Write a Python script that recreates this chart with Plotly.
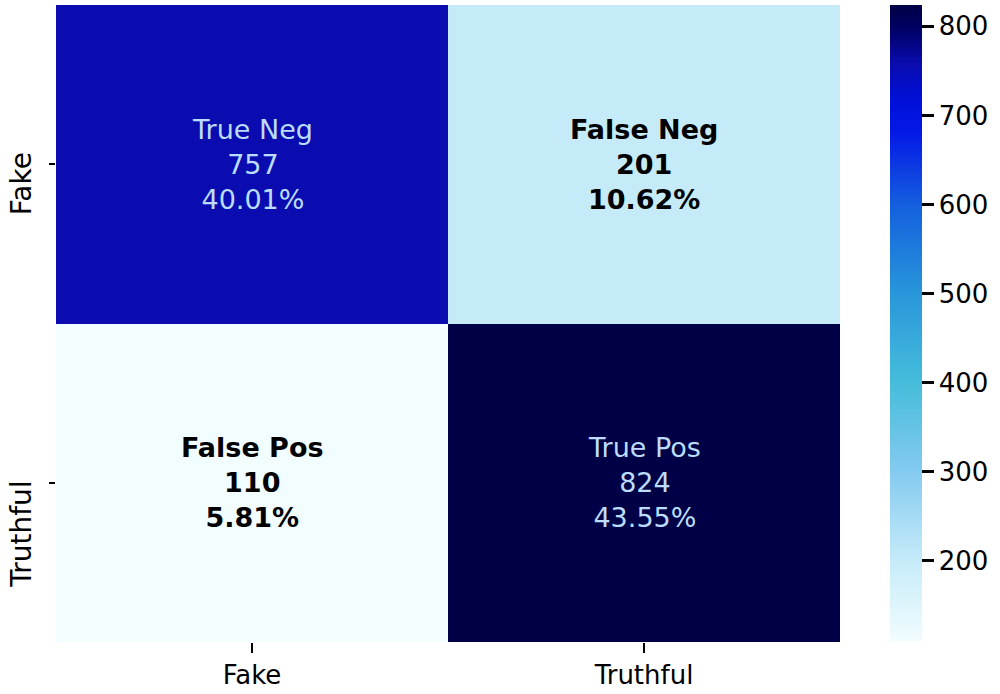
import plotly.graph_objects as go

# ---- data ----
x_labels = ["Fake", "Truthful"]
y_labels = ["Fake", "Truthful"]
counts = [[757, 201],
          [110, 824]]
group_names = [["True Neg", "False Neg"],
               ["False Pos", "True Pos"]]
percents = [["40.01%", "10.62%"],
            ["5.81%", "43.55%"]]
cbar_ticks = [200, 300, 400, 500, 600, 700, 800]

zmin, zmax = 110, 824

colorscale = [
    [0.000, "#f2fdff"],
    [0.126, "#c6ebf9"],
    [0.266, "#84caf0"],
    [0.406, "#46bddb"],
    [0.546, "#2897da"],
    [0.686, "#145fde"],
    [0.800, "#0418e6"],
    [0.850, "#0010d8"],
    [0.906, "#0a0cb0"],
    [0.966, "#000060"],
    [1.000, "#000046"],
]

FONT = "DejaVu Sans"

fig = go.Figure()
fig.add_trace(go.Heatmap(
    z=counts, x=x_labels, y=y_labels,
    zmin=zmin, zmax=zmax, colorscale=colorscale,
    hoverinfo="skip",
    colorbar=dict(
        thickness=32, thicknessmode="pixels",
        len=636, lenmode="pixels",
        x=1.0638, xanchor="left", xpad=0, xref="paper",
        y=1, yanchor="top", ypad=0,
        outlinewidth=0,
        tickvals=cbar_ticks,
        ticks="outside", ticklen=12, tickwidth=2.5, tickcolor="black",
        tickfont=dict(family=FONT, size=26, color="black"),
    ),
))

# cell annotations
for i, yl in enumerate(y_labels):
    for j, xl in enumerate(x_labels):
        v = counts[i][j]
        frac = (v - zmin) / (zmax - zmin)
        dark = frac > 0.5
        if dark:
            txt = f"{group_names[i][j]}<br>{v}<br>{percents[i][j]}"
            col = "#bcdcff"
        else:
            txt = f"<b>{group_names[i][j]}</b><br><b>{v}</b><br><b>{percents[i][j]}</b>"
            col = "black"
        fig.add_annotation(x=xl, y=yl, text=txt, showarrow=False,
                           font=dict(family=FONT, size=27, color=col),
                           xref="x", yref="y")

# y tick labels (rotated)
for yl, shift in zip(y_labels, [14, 4]):
    fig.add_annotation(x=0, xref="paper", xanchor="right", xshift=-16,
                       y=yl, yref="y", yanchor="top", yshift=shift,
                       text=yl, textangle=-90, showarrow=False,
                       font=dict(family=FONT, size=28, color="black"))

fig.update_xaxes(showgrid=False, zeroline=False, showline=False,
                 ticks="outside", ticklen=10, tickwidth=2, tickcolor="black",
                 tickfont=dict(family=FONT, size=26, color="black"))
fig.update_yaxes(showgrid=False, zeroline=False, showline=False,
                 autorange="reversed",
                 ticks="outside", ticklen=6, tickwidth=2, tickcolor="black",
                 showticklabels=False)

fig.update_layout(
    width=1000, height=694,
    margin=dict(l=56, r=160, t=5, b=52, autoexpand=False),
    paper_bgcolor="white", plot_bgcolor="white",
    font=dict(family=FONT),
)

fig.write_html("out.html",
               config={"displayModeBar": False},
               post_script="document.body.style.margin='0';document.body.style.overflow='hidden';")
